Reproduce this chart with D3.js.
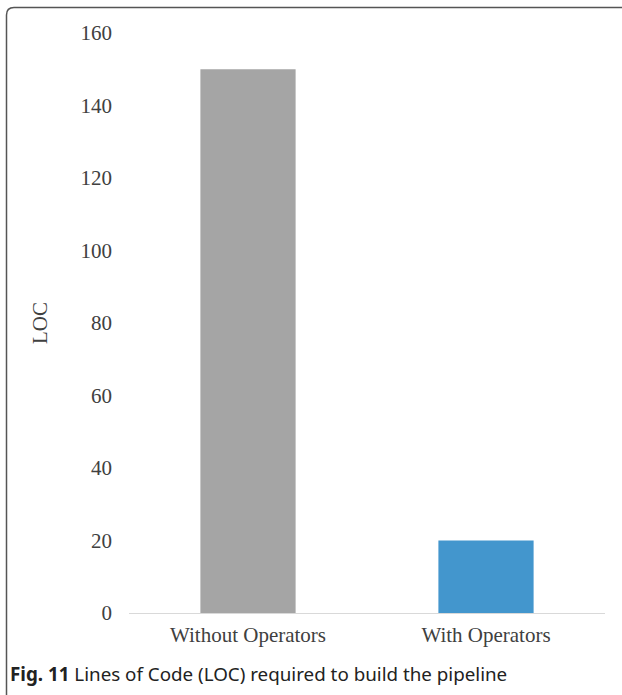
<!DOCTYPE html>
<html>
<head>
<meta charset="utf-8">
<script src="https://cdn.jsdelivr.net/npm/d3@7"></script>
<style>
  body { margin: 0; background: #fff; }
</style>
</head>
<body>
<div id="chart"></div>
<script>
var categories = ["Without Operators", "With Operators"];
var locValues = [150, 20];
var barColors = ["#a5a5a5", "#4396cd"];
var yTicks = [0, 20, 40, 60, 80, 100, 120, 140, 160];

var width = 622,
    height = 695;

var svg = d3.select("#chart")
    .append("svg")
    .attr("width", width)
    .attr("height", height)

// frame round the figure
svg.append("path")
    .attr("d", "M6.5,695 L6.5,15 Q6.5,7.5 14,7.5 L622,7.5")
    .attr("fill", "none")
    .attr("stroke", "#555")
    .attr("stroke-width", 1.5)

var x = d3.scaleBand()
    .domain(categories)
    .range([129, 605])
    .paddingInner(0.6)
    .paddingOuter(0.3)

var y = d3.scaleLinear()
    .domain([0, 160])
    .range([613, 33])

var yAxis = svg.append("g")
    .attr("transform", "translate(112,0)")
    .call(d3.axisLeft(y).tickValues(yTicks).tickSize(0).tickPadding(0))
yAxis.select(".domain").remove()
yAxis.selectAll("text")
    .attr("font-family", "Liberation Serif, serif")
    .attr("font-size", 21)
    .attr("fill", "#404040")

svg.append("line")
    .attr("x1", 129)
    .attr("x2", 605)
    .attr("y1", y(0) + 0.5)
    .attr("y2", y(0) + 0.5)
    .attr("stroke", "#d9d9d9")

svg.selectAll(".bar")
    .data(locValues)
    .enter().append("rect")
    .attr("class", "bar")
    .attr("x", function(d, i) { return x(categories[i]) })
    .attr("width", x.bandwidth())
    .attr("y", function(d) { return y(d) })
    .attr("height", function(d) { return y(0) - y(d) })
    .attr("fill", function(d, i) { return barColors[i] })

var xAxis = svg.append("g")
    .attr("transform", "translate(0," + y(0) + ")")
    .call(d3.axisBottom(x).tickSize(0).tickPadding(14))
xAxis.select(".domain").remove()
xAxis.selectAll("text")
    .attr("font-family", "Liberation Serif, serif")
    .attr("font-size", 21)
    .attr("fill", "#404040")

svg.append("text")
    .attr("transform", "translate(47," + y(80) + ") rotate(-90)")
    .attr("text-anchor", "middle")
    .attr("font-family", "Liberation Serif, serif")
    .attr("font-size", 21)
    .attr("fill", "#404040")
    .text("LOC")

var caption = svg.append("text")
    .attr("x", 10)
    .attr("y", 681)
    .attr("font-family", "Noto Sans, sans-serif")
    .attr("font-size", 18.8)
    .attr("fill", "#222")
caption.append("tspan").attr("font-weight", "bold").text("Fig. 11")
caption.append("tspan").text(" Lines of Code (LOC) required to build the pipeline")
</script>
</body>
</html>
